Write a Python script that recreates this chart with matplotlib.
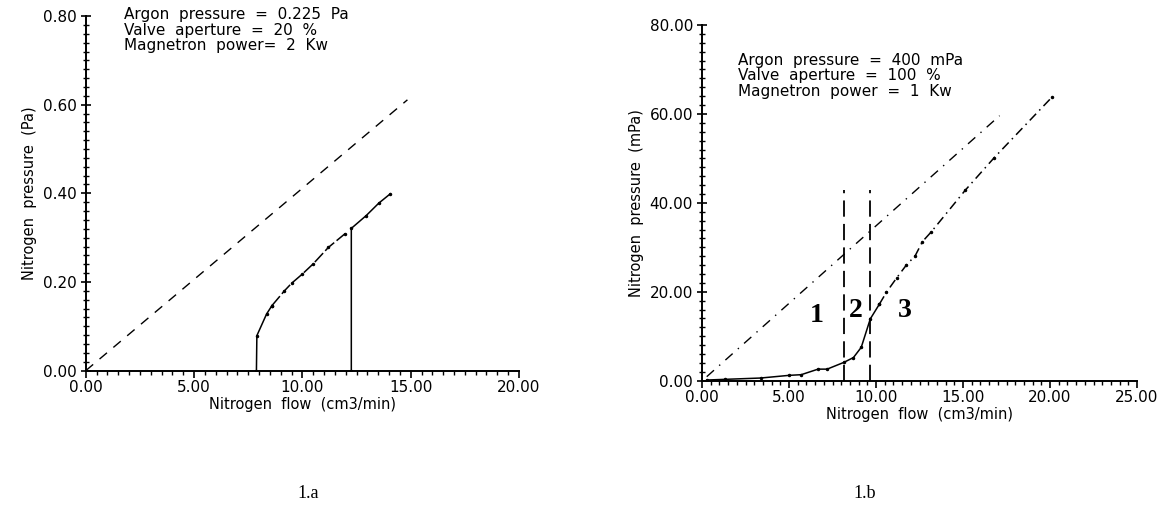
import matplotlib.pyplot as plt
from matplotlib.ticker import MultipleLocator, FormatStrFormatter

# panel 1.a  (pressure in Pa)
refA_x = [0.0, 14.85]
refA_y = [0.0, 0.611]
lowA_x = [7.88, 7.90, 8.35, 8.60, 9.17, 9.50, 10.00, 10.50, 11.20, 11.97]
lowA_y = [0.0, 0.079, 0.128, 0.147, 0.180, 0.197, 0.218, 0.241, 0.278, 0.309]
highA_x = [12.26, 12.26, 12.95, 13.53, 14.06]
highA_y = [0.0, 0.321, 0.350, 0.378, 0.399]

# panel 1.b  (pressure in mPa)
refB_x = [0.27, 17.1]
refB_y = [0.9, 59.6]
curveB_x = [0.27, 1.3, 3.37, 5.0, 5.7, 6.67, 7.19, 8.14, 8.7, 9.15, 9.67,
            10.19, 10.6, 11.2, 11.74, 12.25, 12.67, 13.18, 15.14, 16.8, 20.14]
curveB_y = [0.15, 0.3, 0.6, 1.2, 1.35, 2.6, 2.6, 4.1, 5.2, 7.5, 13.9,
            17.2, 19.9, 23.2, 26.0, 28.1, 31.3, 33.5, 42.9, 50.2, 63.9]
bounds_x = [8.14, 9.67]
bounds_top = 43.0
zone_labels = ["1", "2", "3"]
zone_x = [6.57, 8.84, 11.63]
zone_y = [14.6, 15.7, 15.7]

textA = "Argon  pressure  =  0.225  Pa\nValve  aperture  =  20  %\nMagnetron  power=  2  Kw"
textB = "Argon  pressure  =  400  mPa\nValve  aperture  =  100  %\nMagnetron  power  =  1  Kw"

fig = plt.figure(figsize=(11.6, 5.11), dpi=100)
axA = fig.add_axes([0.0739, 0.2746, 0.3735, 0.694])
axB = fig.add_axes([0.6052, 0.255, 0.375, 0.696])


def style(ax, xmax, ymax, ymin_step, ymaj_step):
    ax.set_xlim(0, xmax)
    ax.set_ylim(0, ymax)
    for s in ["top", "right"]:
        ax.spines[s].set_visible(False)
    for s in ["left", "bottom"]:
        ax.spines[s].set_linewidth(1.4)
    ax.xaxis.set_major_locator(MultipleLocator(5))
    ax.xaxis.set_minor_locator(MultipleLocator(0.5))
    ax.yaxis.set_major_locator(MultipleLocator(ymaj_step))
    ax.yaxis.set_minor_locator(MultipleLocator(ymin_step))
    ax.xaxis.set_major_formatter(FormatStrFormatter("%.2f"))
    ax.yaxis.set_major_formatter(FormatStrFormatter("%.2f"))
    ax.tick_params(axis="x", which="major", direction="out", length=5, width=1.2, labelsize=11, pad=2)
    ax.tick_params(axis="x", which="minor", direction="out", length=3, width=1.0)
    ax.tick_params(axis="y", which="major", direction="inout", length=7, width=1.2, labelsize=11, pad=3)
    ax.tick_params(axis="y", which="minor", direction="inout", length=4, width=1.0)
    ax.set_xlabel("Nitrogen  flow  (cm3/min)", fontsize=10.5, labelpad=1)


style(axA, 20, 0.8, 0.02, 0.2)
axA.plot(refA_x, refA_y, color="black", lw=1.0, linestyle=(0, (7, 6)))
axA.plot(lowA_x[:4], lowA_y[:4], color="black", lw=1.1, marker=".", ms=3)
axA.plot(lowA_x[3:], lowA_y[3:], color="black", lw=1.1, linestyle=(0, (8, 2)), marker=".", ms=3)
axA.plot(highA_x, highA_y, color="black", lw=1.1, marker=".", ms=3)
axA.set_ylabel("Nitrogen  pressure  (Pa)", fontsize=10.5, labelpad=4)
axA.text(1.76, 0.82, textA, fontsize=11, va="top", ha="left", linespacing=1.05)

style(axB, 25, 80, 2, 20)
axB.plot(refB_x, refB_y, color="black", lw=1.0, linestyle=(0, (7, 5, 1, 5)))
axB.plot(curveB_x[:12], curveB_y[:12], color="black", lw=1.1, marker=".", ms=3)
axB.plot(curveB_x[11:], curveB_y[11:], color="black", lw=1.1, linestyle=(0, (6, 3, 1, 3)), marker=".", ms=3)
for bx in bounds_x:
    axB.plot([bx, bx], [0, bounds_top], color="black", lw=1.3, linestyle=(0, (9, 4)))
for lab, zx, zy in zip(zone_labels, zone_x, zone_y):
    axB.text(zx, zy, lab, fontsize=20, fontweight="bold", family="Liberation Serif",
             ha="center", va="center")
axB.set_ylabel("Nitrogen  pressure  (mPa)", fontsize=10.5, labelpad=4)
axB.text(2.07, 73.8, textB, fontsize=11, va="top", ha="left", linespacing=1.05)

fig.text(308 / 1160, 1 - 494 / 511, "1.a", fontsize=13, family="Liberation Serif", ha="center", va="center")
fig.text(865 / 1160, 1 - 494 / 511, "1.b", fontsize=13, family="Liberation Serif", ha="center", va="center")

fig.savefig("out.png", dpi=100)
